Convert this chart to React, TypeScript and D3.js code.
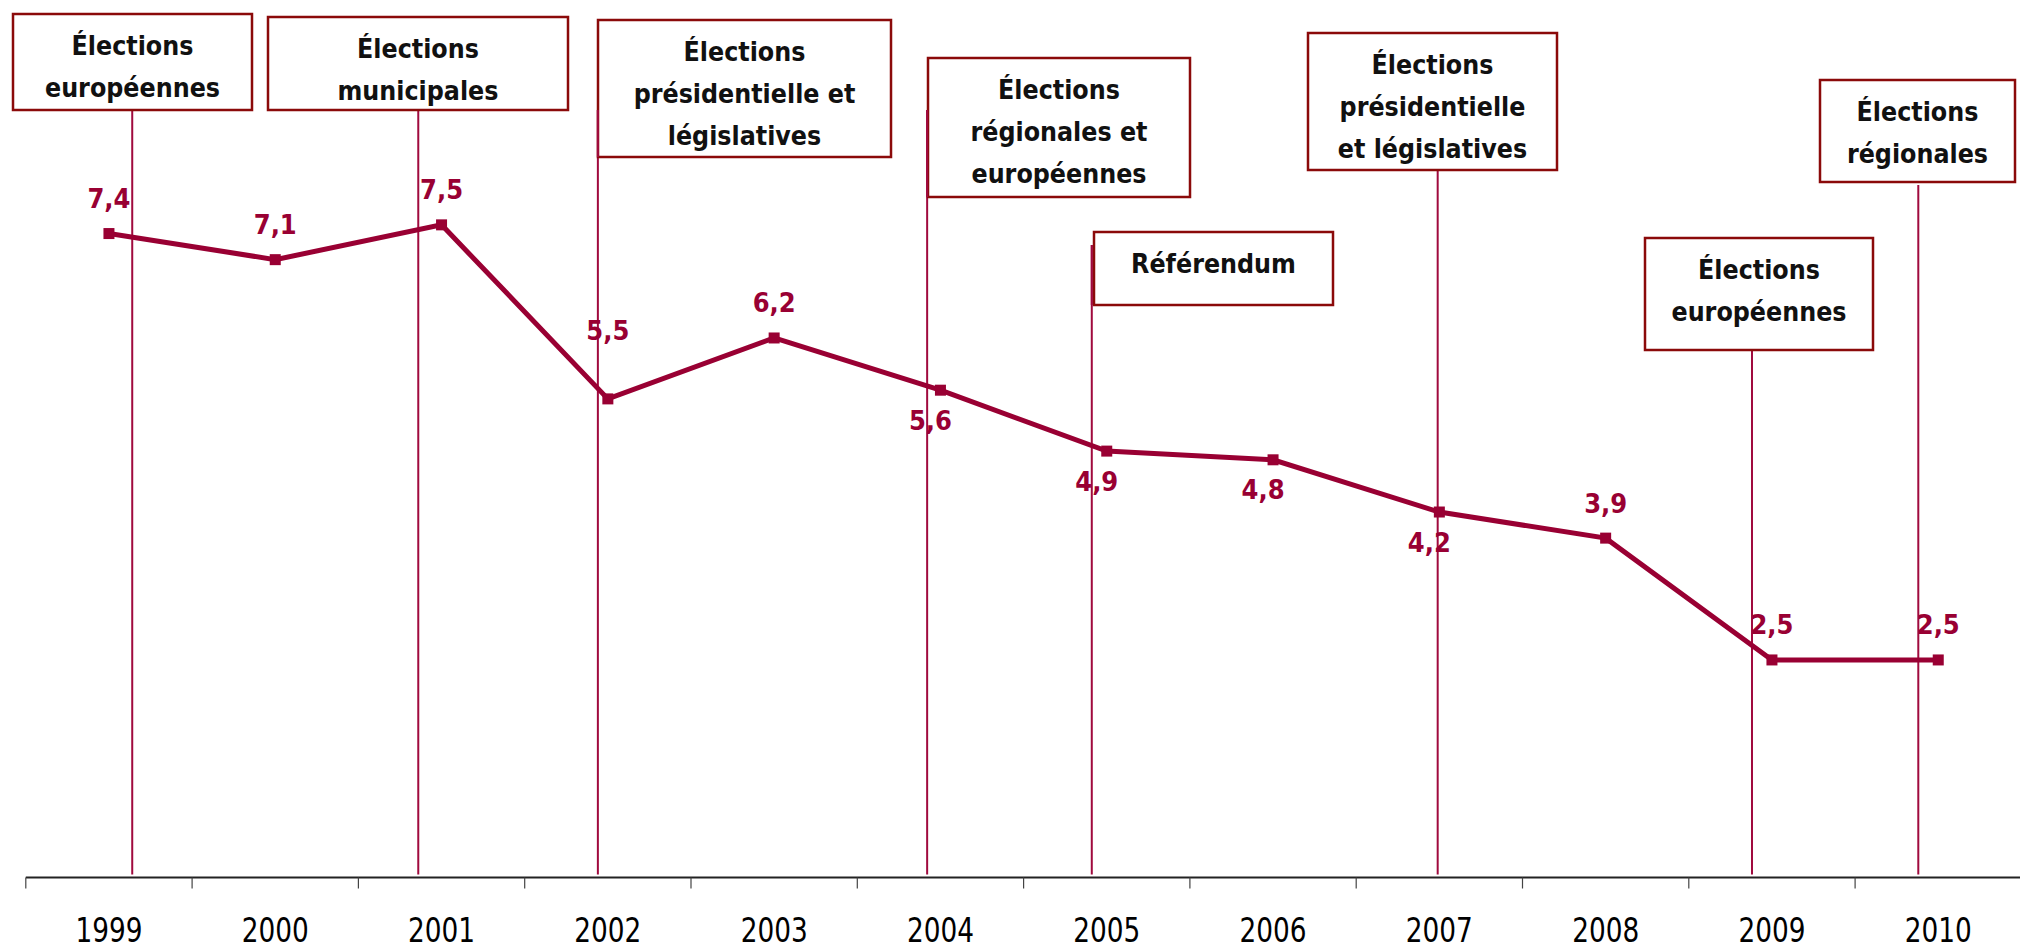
import React from "react";
import * as d3 from "d3";

const years = ["1999","2000","2001","2002","2003","2004","2005","2006","2007","2008","2009","2010"];
const values = [7.4, 7.1, 7.5, 5.5, 6.2, 5.6, 4.9, 4.8, 4.2, 3.9, 2.5, 2.5];
const valueLabels = ["7,4","7,1","7,5","5,5","6,2","5,6","4,9","4,8","4,2","3,9","2,5","2,5"];
const labelSide = ["above","above","above","above2","above","below","below","below","below","above","above","above"];

// events: fractional year position where the marker line sits
const eventPositions = [1999.14, 2000.86, 2001.94, 2003.92, 2004.91, 2006.99, 2008.88, 2009.88];
const eventTexts = [
  ["Élections", "européennes"],
  ["Élections", "municipales"],
  ["Élections", "présidentielle et", "législatives"],
  ["Élections", "régionales et", "européennes"],
  ["Référendum"],
  ["Élections", "présidentielle", "et législatives"],
  ["Élections", "européennes"],
  ["Élections", "régionales"],
];

// annotation box layout (pixels): [x0, y0, x1, y1, lineTop]
const boxLayout = [
  [13, 14, 252, 110, 110],
  [268, 17, 568, 110, 110],
  [598, 20, 891, 157, 110],
  [928, 58, 1190, 197, 110],
  [1094, 232, 1333, 305, 245],
  [1308, 33, 1557, 170, 170],
  [1645, 238, 1873, 350, 350],
  [1820, 80, 2015, 182, 185],
];

const W = 2020, H = 951;
const axisY = 877.5;
const LINE = "#990033";
const EVENT = "#A00A3E";
const BOX = "#8B0A0A";

export default function App() {
  const x = d3.scaleBand<string>().domain(years).range([25.8, 2021.4]).paddingInner(0).paddingOuter(0);
  const bw = x.bandwidth();
  const cx = (i: number) => (x(years[i]) as number) + bw / 2;
  const xYear = d3.scaleLinear().domain([1999, 2010]).range([cx(0), cx(11)]);
  const y = d3.scaleLinear().domain([0, 10]).range([axisY, axisY - 870.2]);

  const line = d3.line<number>().x((_, i) => cx(i)).y((d) => y(d));
  const tickXs = years.map((yr) => x(yr) as number).concat([x.range()[1]]);

  return (
    <svg width={W} height={H} style={{ position: "absolute", left: 0, top: 0, background: "#fff" }}>
      {/* event lines */}
      {eventPositions.map((p, i) => (
        <line key={"ev" + i} x1={xYear(p)} x2={xYear(p)} y1={boxLayout[i][4]} y2={axisY - 3}
          stroke={EVENT} strokeWidth={2} />
      ))}
      {/* boxes */}
      {eventTexts.map((lines, i) => {
        const [x0, y0, x1, y1] = boxLayout[i];
        const mx = (x0 + x1) / 2;
        return (
          <g key={"bx" + i}>
            <rect x={x0} y={y0} width={x1 - x0} height={y1 - y0} fill="#fff" stroke={BOX} strokeWidth={2.5} />
            {lines.map((t, j) => (
              <text key={j} x={mx} y={y0 + 31 + j * 42} textAnchor="middle" dominantBaseline="central"
                fontFamily="'DejaVu Sans Condensed', 'DejaVu Sans', sans-serif" fontWeight="bold" fontSize={26.5}
                fill="#111">{t}</text>
            ))}
          </g>
        );
      })}
      {/* event line segments over box left edges where they overlap */}
      {eventPositions.map((p, i) => {
        const [x0, y0, x1, y1, top] = boxLayout[i];
        if (top >= y1) return null;
        return <line key={"evo" + i} x1={xYear(p)} x2={xYear(p)} y1={top} y2={y1} stroke={EVENT} strokeWidth={2} />;
      })}
      {/* axis */}
      <line x1={25.8} x2={W} y1={axisY} y2={axisY} stroke="#222" strokeWidth={2} />
      {tickXs.map((tx, i) => (
        <line key={"tk" + i} x1={tx} x2={tx} y1={axisY} y2={axisY + 11} stroke="#444" strokeWidth={1.2} />
      ))}
      {years.map((yr, i) => (
        <text key={"yl" + i} x={cx(i)} y={942} textAnchor="middle" textLength={67} lengthAdjust="spacingAndGlyphs"
          fontFamily="'DejaVu Sans Condensed', 'DejaVu Sans', sans-serif" fontSize={34} fill="#000">{yr}</text>
      ))}
      {/* data line */}
      <path d={line(values) || ""} fill="none" stroke={LINE} strokeWidth={5} strokeLinejoin="miter" />
      {values.map((v, i) => (
        <rect key={"mk" + i} x={cx(i) - 5.5} y={y(v) - 5.5} width={11} height={11} fill={LINE} />
      ))}
      {values.map((v, i) => {
        const side = labelSide[i];
        const dy = side === "above" ? -35 : side === "above2" ? -68 : 30;
        const dx = side === "below" ? -10 : 0;
        return (
          <text key={"vl" + i} x={cx(i) + dx} y={y(v) + dy} textAnchor="middle" dominantBaseline="central"
            fontFamily="'DejaVu Sans Condensed', 'DejaVu Sans', sans-serif" fontWeight="bold" fontSize={27}
            fill={LINE}>{valueLabels[i]}</text>
        );
      })}
    </svg>
  );
}
